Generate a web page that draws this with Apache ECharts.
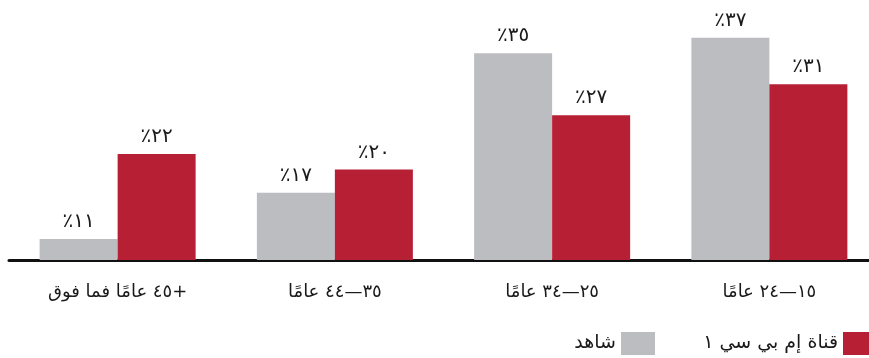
<!DOCTYPE html>
<html>
<head>
<meta charset="utf-8">
<script src="https://cdn.jsdelivr.net/npm/echarts@6/dist/echarts.min.js"></script>
<style>
  html, body { margin: 0; padding: 0; background: #ffffff; }
  #chart { width: 869px; height: 358px; }
</style>
</head>
<body>
<div id="chart"></div>
<script>
// Age groups (drawn right-to-left via an inverted category axis)
const categories = ['١٥—٢٤ عامًا', '٢٥—٣٤ عامًا', '٣٥—٤٤ عامًا', '\u200F+٤٥ عامًا فما فوق'];
// Share of viewers per age group, in percent
const shahidValues = [37, 35, 17, 11];
const mbc1Values = [31, 27, 20, 22];
const seriesNames = ['شاهد', 'قناة إم بي سي ١'];

const FONT = "'DejaVu Sans', sans-serif";
const arabicDigits = '٠١٢٣٤٥٦٧٨٩';
function toArabic(n) {
  return String(n).replace(/[0-9]/g, d => arabicDigits[+d]);
}

const valueLabel = {
  show: true,
  position: 'top',
  distance: 7,
  color: '#1a1a1a',
  fontFamily: FONT,
  fontSize: 20,
  formatter: p => '٪' + toArabic(p.value)
};

const legendText = { color: '#1a1a1a', fontFamily: FONT, fontSize: 19 };

const chart = echarts.init(document.getElementById('chart'), null, { renderer: 'canvas' });
chart.setOption({
  animation: false,
  backgroundColor: '#ffffff',
  grid: {
    left: 9, width: 869, top: 20, bottom: 98,
    containLabel: false,
    outerBoundsMode: 'none'
  },
  xAxis: {
    type: 'category',
    data: categories,
    inverse: true,
    axisLine: { show: true, lineStyle: { color: '#111111', width: 3 } },
    axisTick: { show: false },
    axisLabel: { color: '#1a1a1a', fontFamily: FONT, fontSize: 18, margin: 23 }
  },
  yAxis: {
    type: 'value',
    min: 8.3,
    max: 39.3,
    show: false,
    splitLine: { show: false }
  },
  legend: [
    {
      data: [seriesNames[1]],
      right: 0,
      top: 332,
      padding: 0,
      align: 'right',
      itemWidth: 26,
      itemHeight: 23,
      icon: 'rect',
      textStyle: legendText
    },
    {
      data: [seriesNames[0]],
      right: 214,
      top: 332,
      padding: 0,
      align: 'right',
      itemWidth: 34,
      itemHeight: 23,
      icon: 'rect',
      textStyle: legendText
    }
  ],
  series: [
    {
      name: seriesNames[0],
      type: 'bar',
      data: shahidValues,
      barWidth: 78,
      barGap: '0%',
      itemStyle: { color: '#BCBDC1' },
      label: valueLabel
    },
    {
      name: seriesNames[1],
      type: 'bar',
      data: mbc1Values,
      barWidth: 78,
      barGap: '0%',
      itemStyle: { color: '#B71F34' },
      label: valueLabel
    }
  ]
});
</script>
</body>
</html>
